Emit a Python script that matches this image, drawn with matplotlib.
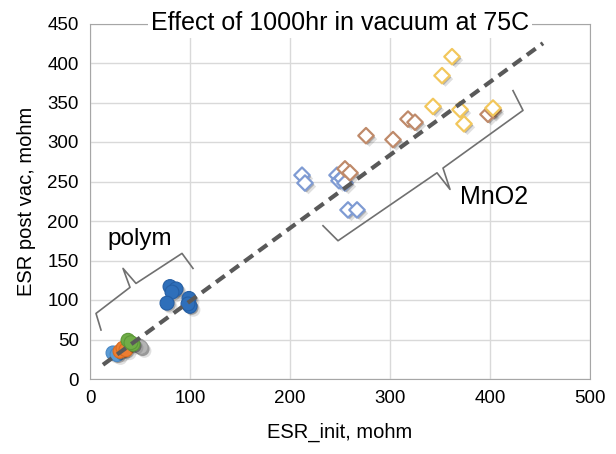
import numpy as np
import matplotlib
matplotlib.use("Agg")
import matplotlib.pyplot as plt
import matplotlib.patheffects as pe

plt.rcParams['font.family'] = ['Liberation Sans', 'DejaVu Sans']

# polymer caps (filled circles)
lblue_x = [23, 27]
lblue_y = [33, 31]
orange_x = [30, 33, 36]
orange_y = [35, 39, 37]
gray_x = [49, 51]
gray_y = [42, 40]
blue_x = [80, 86, 82, 77, 99, 100, 98]
blue_y = [117, 114, 110, 96, 102, 92, 95]
green_x = [38, 43, 41]
green_y = [49, 44, 46]

# MnO2 caps (hollow diamonds)
dblue_x = [212, 215, 247, 249, 252, 255, 258, 267]
dblue_y = [258, 248, 258, 251, 254, 248, 214, 214]
brown_x = [255, 260, 276, 303, 318, 325, 398, 403]
brown_y = [266, 261, 308, 303, 329, 325, 335, 340]
yellow_x = [362, 352, 343, 370, 374, 403]
yellow_y = [408, 384, 345, 341, 323, 343]

# trend line y = a*x + b
trend_a = 0.925
trend_b = 6
trend_x = [13, 453]

# bracket outlines (data units)
polym_br_x = [11, 6, 40, 33, 46, 92, 103]
polym_br_y = [62, 83, 116, 140, 121, 159, 140]
mno2_br_x = [233, 248, 347, 360, 353, 433, 423]
mno2_br_y = [194, 175, 261, 240, 267, 340, 365]

fig = plt.figure(figsize=(6.16, 4.54), dpi=100)
ax = fig.add_axes([90 / 616, 75 / 454, 500 / 616, 355.5 / 454])

# soft-ish drop shadow like the Excel marker effect
shadow = [pe.SimplePatchShadow(offset=(2.5, -2.5), shadow_rgbFace='k', alpha=0.12),
          pe.SimplePatchShadow(offset=(1.2, -1.2), shadow_rgbFace='k', alpha=0.22),
          pe.Normal()]

def circles(x, y, face, edge):
    sc = ax.scatter(x, y, s=100, marker='o', facecolor=face, edgecolor=edge,
                    linewidth=0.8, zorder=4)
    sc.set_path_effects(shadow)

def diamonds(x, y, edge):
    sc = ax.scatter(x, y, s=62, marker='D', facecolor='white', edgecolor=edge,
                    linewidth=1.6, zorder=4)
    sc.set_path_effects(shadow)

circles(lblue_x, lblue_y, '#5b9bd5', '#4a88c4')
circles(orange_x, orange_y, '#ed7d31', '#d66c22')
circles(gray_x, gray_y, '#b4b4b4', '#9a9a9a')
circles(blue_x, blue_y, '#2e6fba', '#255fa5')
circles(green_x, green_y, '#70ad47', '#5c9838')

diamonds(dblue_x, dblue_y, '#7f9bd3')
diamonds(brown_x, brown_y, '#bf8a6a')
diamonds(yellow_x, yellow_y, '#f2c75c')

tx = np.array(trend_x)
ax.plot(tx, trend_a * tx + trend_b, color='#595959', lw=3, dashes=(2.6, 1.6),
        zorder=5)

ax.plot(polym_br_x, polym_br_y, color='#707070', lw=1.2, zorder=3)
ax.plot(mno2_br_x, mno2_br_y, color='#707070', lw=1.2, zorder=3)
ax.text(50, 177, 'polym', fontsize=17.5, ha='center', va='center')
ax.text(370, 230, 'MnO2', fontsize=18, ha='left', va='center')

ax.set_xlim(0, 500)
ax.set_ylim(0, 450)
ax.set_xticks(range(0, 501, 100))
ax.set_yticks(range(0, 451, 50))
ax.grid(True, color='#d9d9d9', lw=1)
ax.set_axisbelow(True)
for s in ax.spines.values():
    s.set_color('#a6a6a6')
ax.tick_params(length=0, labelsize=13.5, colors='#000000', pad=8)
ax.set_xlabel('ESR_init, mohm', fontsize=14.5, labelpad=11)
ax.set_ylabel('ESR post vac, mohm', fontsize=14.5, labelpad=8)

ax.text(0.5, 1.0, 'Effect of 1000hr in vacuum at 75C', transform=ax.transAxes,
        ha='center', va='center', fontsize=18, zorder=10,
        bbox=dict(facecolor='white', edgecolor='none', pad=2))

fig.savefig('out.png', dpi=100)
